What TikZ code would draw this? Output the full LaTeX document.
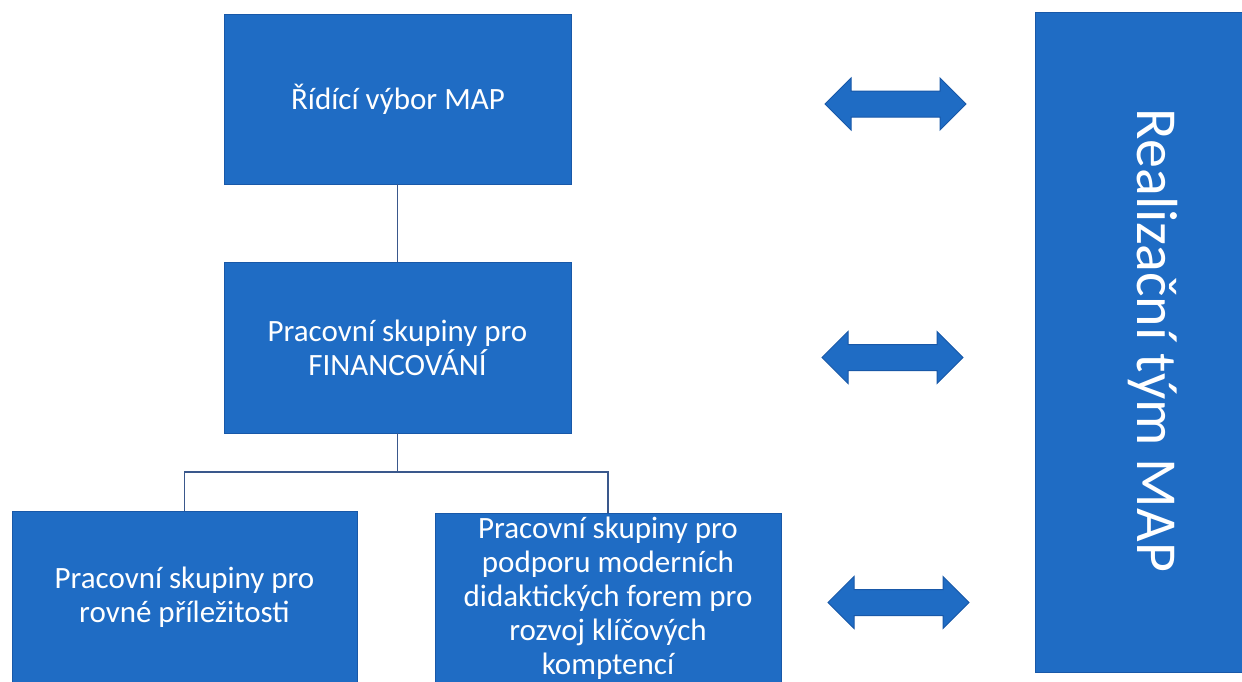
\documentclass[tikz,border=0pt]{standalone}
\usepackage{fontspec}
\setmainfont{Carlito}
\usetikzlibrary{shapes.arrows}
\definecolor{boxblue}{RGB}{31,108,196}
\definecolor{edgeblue}{RGB}{24,88,168}
\definecolor{linecol}{RGB}{58,88,140}
\begin{document}
\begin{tikzpicture}[x=1pt,y=-1pt,
  blk/.style={fill=boxblue, draw=edgeblue, line width=0.8pt, text=white, align=center,
    inner sep=0pt, font=\fontsize{31}{34}\selectfont},
  darr/.style={double arrow, fill=boxblue, draw=edgeblue, line width=1pt,
    minimum width=51pt, minimum height=141pt, double arrow head extend=13pt,
    inner xsep=0pt, inner ysep=12.5pt, double arrow tip angle=90},
  conn/.style={draw=linecol, line width=1.6pt}]
\useasboundingbox (0,0) rectangle (1242,681);
\clip (0,0) rectangle (1242,681);
\fill[white] (0,0) rectangle (1242,681);

\node[blk, minimum width=347pt, minimum height=170pt] (top) at (398,99) {Řídící výbor MAP};
\node[blk, minimum width=347pt, minimum height=171pt] (mid) at (397.5,347.5) {Pracovní skupiny pro\\FINANCOVÁNÍ};
\node[blk, minimum width=345pt, minimum height=172pt] (bl) at (184.5,597) {Pracovní skupiny pro\\rovné příležitosti};
\node[blk, minimum width=346pt, minimum height=170pt] (br) at (608,598) {Pracovní skupiny pro\\podporu moderních\\didaktických forem pro\\rozvoj klíčových\\komptencí};
\node[blk, minimum width=215pt, minimum height=660pt] (rt) at (1142.5,342) {};
\node[text=white, rotate=-90, anchor=base, inner sep=0pt, font=\fontsize{58}{60}\selectfont] (rtlabel) at (1137,340.5) {Realizační tým MAP};

\node[darr] (a1) at (895.5,104) {};
\node[darr] (a2) at (892.5,357.5) {};
\node[darr] (a3) at (898.5,602.5) {};

\coordinate (j) at (397.5,472);
\draw[conn] (top.south -| mid.north) -- (mid.north);
\draw[conn] (mid.south) -- (mid.south |- j);
\draw[conn] (bl.north) -- (bl.north |- j) -- (br.north |- j) -- (br.north);
\end{tikzpicture}
\end{document}
